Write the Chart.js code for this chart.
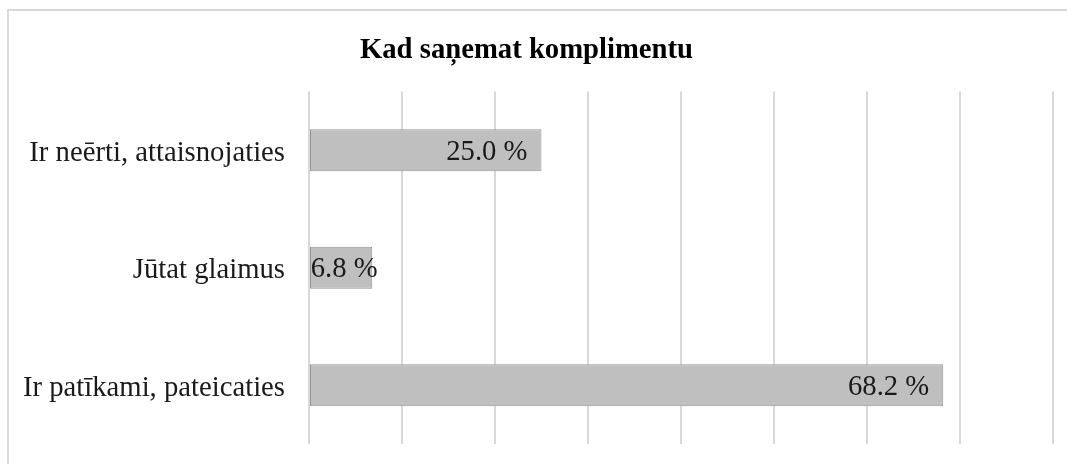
<!DOCTYPE html>
<html>
<head>
<meta charset="utf-8">
<script src="https://cdn.jsdelivr.net/npm/chart.js@4/dist/chart.umd.min.js"></script>
<style>
    html, body { margin: 0; padding: 0; background: #fff; overflow: hidden; }
    #wrap { position: relative; width: 1067px; height: 464px; }
    #frame {
        position: absolute; left: 7px; top: 9px; width: 1200px; height: 600px;
        border-top: 2px solid #d9d9d9; border-left: 2px solid #d9d9d9;
    }
    canvas { position: absolute; left: 0; top: 0; }
</style>
</head>
<body>
<div id="wrap">
    <div id="frame"></div>
    <canvas id="chart" width="1067" height="464"></canvas>
</div>
<script>
// Dati no attēla
const categories = ['Ir neērti, attaisnojaties', 'Jūtat glaimus', 'Ir patīkami, pateicaties'];
const values = [25.0, 6.8, 68.2];
const axisMax = 80;
const axisStep = 10;

const FONT = '"Liberation Serif", "Times New Roman", serif';
const SIZE = 28.7;

// Vērtību etiķetes joslu iekšpusē (pie gala)
const barLabels = {
    id: 'barLabels',
    afterDatasetsDraw(chart) {
        const ctx = chart.ctx;
        const meta = chart.getDatasetMeta(0);
        ctx.save();
        ctx.font = SIZE + 'px ' + FONT;
        ctx.fillStyle = '#1a1a1a';
        ctx.textBaseline = 'middle';
        meta.data.forEach((bar, i) => {
            const text = values[i].toFixed(1) + ' %';
            const w = ctx.measureText(text).width;
            const barW = bar.x - bar.base;
            if (w + 16 > barW) {
                ctx.textAlign = 'center';
                ctx.fillText(text, (bar.x + bar.base) / 2 + 3, bar.y + 2);
            } else {
                ctx.textAlign = 'right';
                ctx.fillText(text, bar.x - 14, bar.y + 2);
            }
        });
        ctx.restore();
    }
};

new Chart(document.getElementById('chart'), {
    type: 'bar',
    data: {
        labels: categories,
        datasets: [{
            data: values,
            backgroundColor: '#bfbfbf',
            borderColor: '#959595',
            borderWidth: 1,
            borderSkipped: false,
            barPercentage: 0.357,
            categoryPercentage: 1.0
        }]
    },
    options: {
        indexAxis: 'y',
        responsive: false,
        animation: false,
        layout: {
            padding: { left: 0, right: 14, top: 0, bottom: 20 }
        },
        scales: {
            x: {
                min: 0,
                max: axisMax,
                afterFit: s => {
                    s.height = 0;
                    s.paddingLeft = 0;
                    s.paddingRight = 0;
                },
                ticks: { display: false, stepSize: axisStep },
                grid: { color: '#d9d9d9', lineWidth: 2, drawTicks: false },
                border: { display: false }
            },
            y: {
                afterFit: s => {
                    s.width = 309;
                    s.paddingTop = 0;
                    s.paddingBottom = 0;
                },
                ticks: {
                    color: '#1a1a1a',
                    padding: 16,
                    labelOffset: 3,
                    font: { family: FONT, size: SIZE }
                },
                grid: { display: false },
                border: { display: false }
            }
        },
        plugins: {
            legend: { display: false },
            tooltip: { enabled: false },
            title: {
                display: true,
                text: 'Kad saņemat komplimentu',
                color: '#000',
                font: { family: FONT, size: SIZE, weight: 'bold' },
                padding: { top: 33, bottom: 24 }
            }
        }
    },
    plugins: [barLabels]
});
</script>
</body>
</html>
